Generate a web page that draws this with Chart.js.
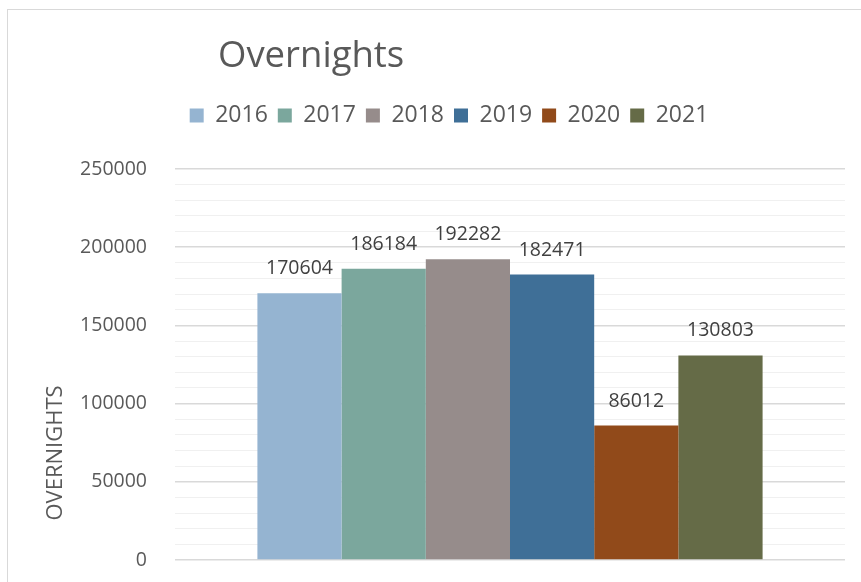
<!DOCTYPE html>
<html>
<head>
<meta charset="utf-8">
<script src="https://cdn.jsdelivr.net/npm/chart.js@4"></script>
<style>
  html, body { margin: 0; padding: 0; background: #fff; overflow: hidden; }
  #frame { position: absolute; left: 7px; top: 9px; width: 920px; height: 620px;
           border-left: 1px solid #d9d9d9; border-top: 1px solid #d9d9d9; }
  #chart { position: absolute; left: 0; top: 0; }
</style>
</head>
<body>
<div id="frame"></div>
<canvas id="chart" width="897" height="582"></canvas>
<script>
const categories = ['Overnights'];
const years = ['2016', '2017', '2018', '2019', '2020', '2021'];
const overnights = [170604, 186184, 192282, 182471, 86012, 130803];
const barColors = ['#95b4d1', '#7ba79d', '#968c8b', '#3f6f97', '#914a1a', '#656b47'];

const chartTitle = 'Overnights';
const axisTitle = 'OVERNIGHTS';
const fontName = "'Open Sans', sans-serif";

// extra text: title, rotated axis title, value labels above the bars
const textPlugin = {
  id: 'textPlugin',
  beforeInit(chart) {
    const fit = chart.legend.fit;
    chart.legend.fit = function () {
      fit.call(this);
      this.height += 32;
    };
  },
  afterDatasetsDraw(chart) {
    const ctx = chart.ctx;
    ctx.save();
    ctx.font = '19.5px ' + fontName;
    ctx.fillStyle = '#404040';
    ctx.textAlign = 'center';
    ctx.textBaseline = 'middle';
    chart.data.datasets.forEach((ds, i) => {
      chart.getDatasetMeta(i).data.forEach((bar, j) => {
        ctx.fillText(String(ds.data[j]), bar.x, bar.y - 24.5);
      });
    });
    ctx.restore();
  },
  afterDraw(chart) {
    const ctx = chart.ctx;
    ctx.save();
    ctx.fillStyle = '#595959';
    ctx.font = '36.5px ' + fontName;
    ctx.textAlign = 'left';
    ctx.textBaseline = 'alphabetic';
    ctx.fillText(chartTitle, 218, 67);

    ctx.font = '22px ' + fontName;
    ctx.translate(56, 453);
    ctx.rotate(-Math.PI / 2);
    ctx.textAlign = 'center';
    ctx.textBaseline = 'middle';
    ctx.fillText(axisTitle, 0, 0);
    ctx.restore();
  }
};

const datasets = years.map((year, i) => ({
  label: year,
  data: [overnights[i]],
  backgroundColor: barColors[i],
  borderWidth: 0,
  barPercentage: 1,
  categoryPercentage: 0.754
}));

new Chart(document.getElementById('chart'), {
  type: 'bar',
  data: { labels: categories, datasets: datasets },
  plugins: [textPlugin],
  options: {
    responsive: false,
    animation: false,
    layout: { padding: { left: 53, right: 52, top: 94, bottom: 22 } },
    plugins: {
      title: { display: false },
      tooltip: { enabled: false },
      legend: {
        position: 'top',
        align: 'center',
        labels: {
          boxWidth: 14,
          boxHeight: 14,
          padding: 10,
          color: '#595959',
          font: { family: fontName, size: 23 }
        }
      }
    },
    scales: {
      x: { display: false },
      y: {
        min: 0,
        max: 250000,
        border: { display: false },
        afterFit: (scale) => { scale.width = 122; },
        grid: {
          drawTicks: true,
          tickLength: 28,
          tickColor: 'rgba(0,0,0,0)',
          color: (c) => (c.tick && c.tick.value % 50000 === 0 ? '#d9d9d9' : '#f0f0f0'),
          lineWidth: (c) => (c.tick && c.tick.value % 50000 === 0 ? 1.5 : 1)
        },
        ticks: {
          stepSize: 10000,
          autoSkip: false,
          padding: 0,
          color: '#595959',
          font: { family: fontName, size: 19.5 },
          callback: (v) => (v % 50000 === 0 ? String(v) : '')
        }
      }
    }
  }
});
</script>
</body>
</html>
